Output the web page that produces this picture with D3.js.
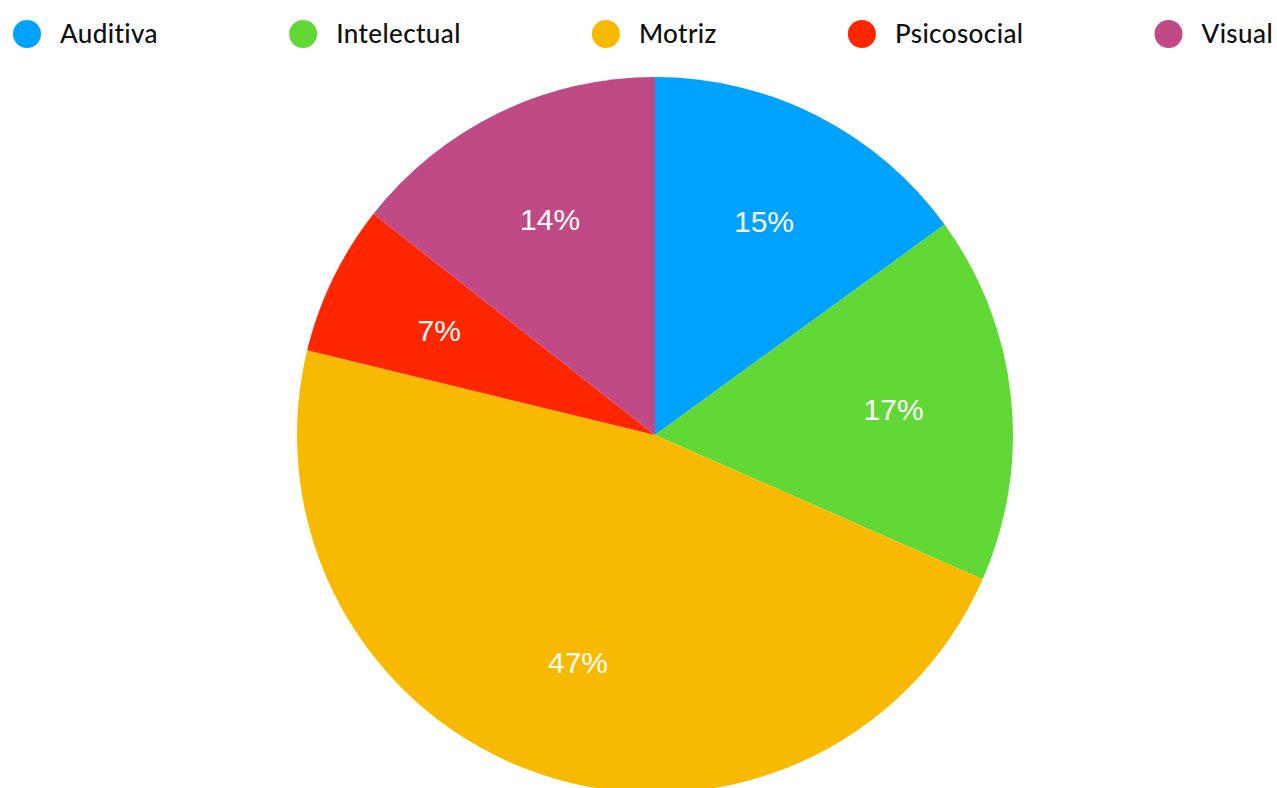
<!DOCTYPE html>
<html>
<head>
<meta charset="utf-8">
<script src="https://cdn.jsdelivr.net/npm/d3@7"></script>
<style>
  body { margin: 0; background: #fff; }
  svg { display: block; }
</style>
</head>
<body>
<svg id="chart"></svg>
<script>
const categories = ["Auditiva", "Intelectual", "Motriz", "Psicosocial", "Visual"];
const values = [15.0, 16.6, 47.2, 6.8, 14.4];
const colors = ["#00A2FF", "#61D836", "#F8BA00", "#FF2600", "#C04A85"];

const width = 1277,
  height = 788,
  svg = d3.select("#chart")
    .attr("width", width)
    .attr("height", height);

const radius = 358,
  cx = 655,
  cy = 435;

const color = d3.scaleOrdinal().domain(categories).range(colors);

const pie = d3.pie().sort(null).value((d, i) => values[i]);
const arcs = pie(categories);
const total = d3.sum(values);

const arc = d3.arc().innerRadius(0).outerRadius(radius);
const label_arc = d3.arc().innerRadius(240).outerRadius(240);

const pie_g = svg.append("g")
  .attr("transform", "translate(" + cx + "," + cy + ")");

pie_g.selectAll("path")
  .data(arcs)
  .join("path")
  .attr("d", arc)
  .attr("fill", (d) => color(d.data));

pie_g.selectAll("text")
  .data(arcs)
  .join("text")
  .attr("transform", (d) => "translate(" + label_arc.centroid(d) + ")")
  .attr("text-anchor", "middle")
  .attr("dy", "0.36em")
  .style("font-family", "'Liberation Sans', Arial, sans-serif")
  .style("font-size", "30px")
  .style("fill", "#fff")
  .text((d) => Math.round(d.value / total * 100) + "%");

// legend, spread across the top like flex space-between
const legend = svg.append("g").attr("class", "legend");
const items = legend.selectAll("g")
  .data(categories)
  .join("g");

items.append("circle")
  .attr("r", 14)
  .attr("cx", 14)
  .attr("cy", 0)
  .attr("fill", (d) => color(d));

items.append("text")
  .attr("x", 47)
  .attr("dy", "0.35em")
  .style("font-family", "Lato, 'Noto Sans', sans-serif")
  .style("font-size", "26px")
  .style("font-weight", "500")
  .style("letter-spacing", "0.4px")
  .style("font-variant-ligatures", "none")
  .style("fill", "#111")
  .text((d) => d);

const item_widths = [];
items.each(function() {
  item_widths.push(47 + d3.select(this).select("text").node().getComputedTextLength());
});
const left = 13, right = 1273;
const gap = (right - left - d3.sum(item_widths)) / (categories.length - 1);
let x = left;
items.attr("transform", function(d, i) {
  const t = "translate(" + x + ",34)";
  x += item_widths[i] + gap;
  return t;
});
</script>
</body>
</html>
